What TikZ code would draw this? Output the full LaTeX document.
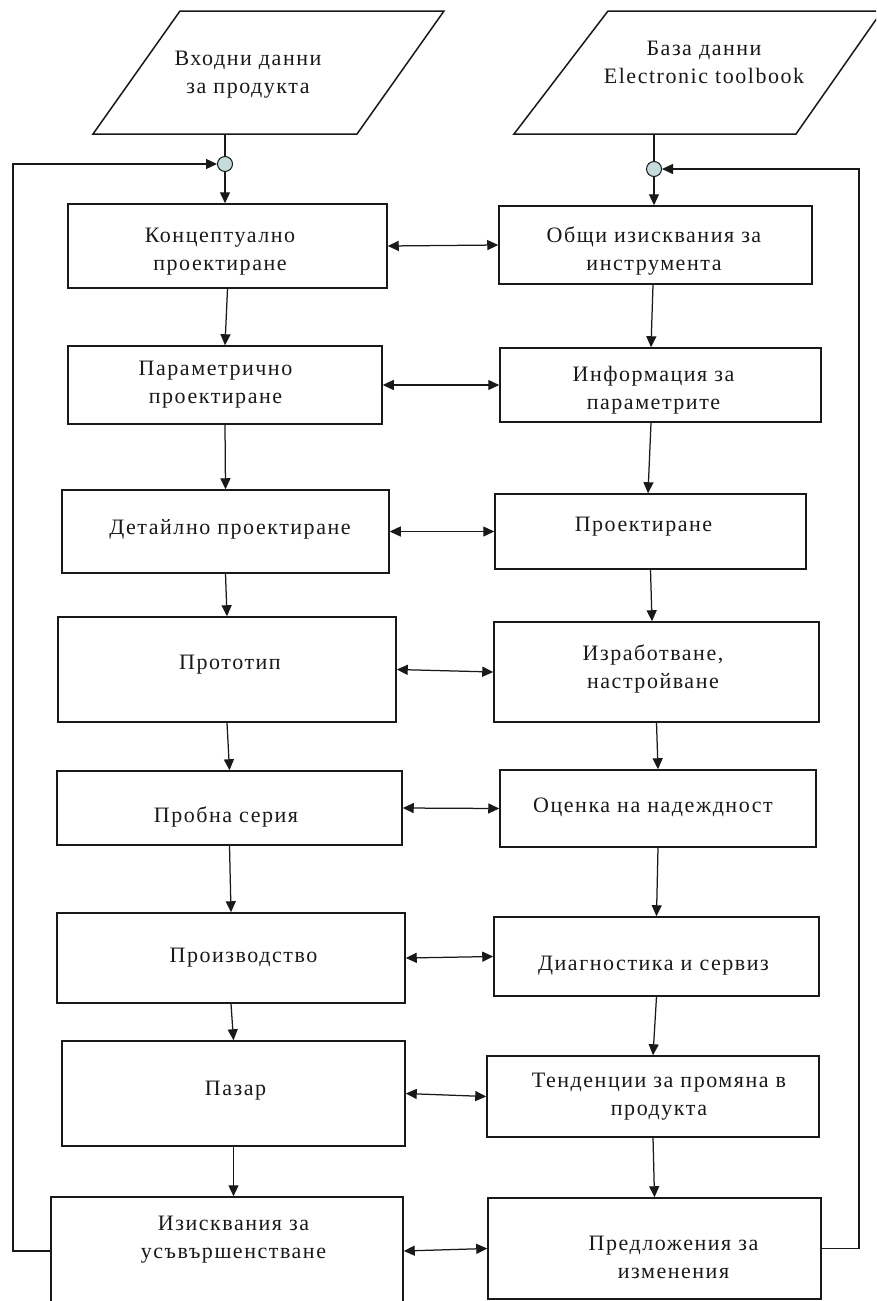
\documentclass[tikz,border=0pt]{standalone}
\usepackage{fontspec}
\setmainfont[LetterSpace=7]{Liberation Serif}
\usetikzlibrary{arrows.meta}
\definecolor{ink}{RGB}{25,25,25}
\definecolor{knot}{RGB}{196,220,222}
\begin{document}
\begin{tikzpicture}[x=1pt,y=-1pt,
  box/.style={draw=ink, line width=1.5pt, inner sep=0pt},
  txt/.style={text=ink, font=\fontsize{22}{28}\selectfont, align=center, inner sep=0pt, yshift=-3pt},
  arr/.style={draw=ink, line width=1.25pt, -{Triangle[length=11pt,width=10pt]}},
  biarr/.style={draw=ink, line width=1.25pt, {Triangle[length=11pt,width=10pt]}-{Triangle[length=11pt,width=10pt]}},
  conn/.style={draw=ink, line width=1.25pt},
  knotst/.style={circle, draw=ink, line width=1pt, fill=knot, minimum size=15pt, inner sep=0pt}]
\useasboundingbox (0,0) rectangle (876,1301);
\clip (0,0) rectangle (876,1301);
\fill[white] (0,0) rectangle (876,1301);

% input parallelograms
\draw[draw=ink, line width=1.5pt] (93,134) -- (357,134) -- (444,11) -- (180,11) -- cycle;
\node[txt] (PLt) at (248,71.5) {Входни данни\\за продукта};
\coordinate (PLo) at (225,134);
\draw[draw=ink, line width=1.5pt] (514,134) -- (796,134) -- (882,11) -- (608,11) -- cycle;
\node[txt] (PRt) at (704,59) {База данни\\Electronic toolbook};
\coordinate (PRo) at (654,134);

% junction circles
\node[knotst] (Lc) at (225,164) {};
\node[knotst] (Rc) at (654,169) {};

% left column boxes
\node[box, minimum width=319pt, minimum height=84pt]  (L1) at (227.5,246) {};
\node[box, minimum width=314pt, minimum height=78pt]  (L2) at (225,385) {};
\node[box, minimum width=327pt, minimum height=83pt]  (L3) at (225.5,531.5) {};
\node[box, minimum width=338pt, minimum height=105pt] (L4) at (227,669.5) {};
\node[box, minimum width=345pt, minimum height=74pt]  (L5) at (229.5,808) {};
\node[box, minimum width=348pt, minimum height=90pt]  (L6) at (231,958) {};
\node[box, minimum width=343pt, minimum height=105pt] (L7) at (233.5,1093.5) {};
\node[box, minimum width=352pt, minimum height=108pt] (L8) at (227,1251) {};

% right column boxes
\node[box, minimum width=313pt, minimum height=78pt]  (R1) at (655.5,245) {};
\node[box, minimum width=321pt, minimum height=74pt]  (R2) at (660.5,385) {};
\node[box, minimum width=311pt, minimum height=75pt]  (R3) at (650.5,531.5) {};
\node[box, minimum width=325pt, minimum height=100pt] (R4) at (656.5,672) {};
\node[box, minimum width=316pt, minimum height=77pt]  (R5) at (658,808.5) {};
\node[box, minimum width=325pt, minimum height=79pt]  (R6) at (656.5,956.5) {};
\node[box, minimum width=332pt, minimum height=81pt]  (R7) at (653,1096.5) {};
\node[box, minimum width=333pt, minimum height=101pt] (R8) at (654.5,1248.5) {};

% texts
\node[txt] (L1t) at (220,248.5) {Концептуално\\проектиране};
\node[txt] (L2t) at (215.5,382) {Параметрично\\проектиране};
\node[txt] (L3t) at (230,526) {Детайлно проектиране};
\node[txt] (L4t) at (230,662) {Прототип};
\node[txt] (L5t) at (226,813.5) {Пробна серия};
\node[txt] (L6t) at (243.5,954.5) {Производство};
\node[txt] (L7t) at (235.5,1088) {Пазар};
\node[txt] (L8t) at (233.5,1236.5) {Изисквания за\\усъвършенстване};
\node[txt] (R1t) at (654,247.5) {Общи изисквания за\\инструмента};
\node[txt] (R2t) at (653.5,387.5) {Информация за\\параметрите};
\node[txt] (R3t) at (643.5,523.5) {Проектиране};
\node[txt] (R4t) at (653,665.5) {Изработване,\\настройване};
\node[txt] (R5t) at (653,804) {Оценка на надеждност};
\node[txt] (R6t) at (653.5,963) {Диагностика и сервиз};
\node[txt] (R7t) at (659,1094) {Тенденции за промяна в\\продукта};
\node[txt] (R8t) at (673.5,1254) {Предложения за\\изменения};

% inputs into the chain
\draw[conn] (PLo) -- (Lc.north);
\draw[arr] (Lc.south) -- (Lc.south |- L1.north);
\draw[conn] (PRo) -- (Rc.north);
\draw[arr] (Rc.south) -- (Rc.south |- R1.north);

% left chain
\draw[arr] (L1.south) -- (L2.north);
\draw[arr] (L2.south) -- (L3.north);
\draw[arr] (L3.south) -- (L4.north);
\draw[arr] (L4.south) -- (L5.north);
\draw[arr] (L5.south) -- (L6.north);
\draw[arr] (L6.south) -- (L7.north);
\draw[arr] (L7.south) -- (L7.south |- L8.north);

% right chain
\draw[arr] ([xshift=-2.5pt]R1.south) -- ([xshift=-9.5pt]R2.north);
\draw[arr] ([xshift=-9.5pt]R2.south) -- ([xshift=-2.5pt]R3.north);
\draw[arr] (R3.south) -- ([xshift=-4.5pt]R4.north);
\draw[arr] (R4.south) -- (R5.north);
\draw[arr] (R5.south) -- (R6.north);
\draw[arr] (R6.south) -- (R7.north);
\draw[arr] (R7.south) -- (R8.north);

% two-way links
\draw[biarr] (L1.east) -- (R1.west);
\draw[biarr] (L2.east) -- (R2.west);
\draw[biarr] (L3.east) -- (R3.west);
\draw[biarr] (L4.east) -- (R4.west);
\draw[biarr] (L5.east) -- (R5.west);
\draw[biarr] (L6.east) -- (R6.west);
\draw[biarr] (L7.east) -- (R7.west);
\draw[biarr] (L8.east) -- (R8.west);

% feedback loops
\coordinate (LfT) at (13,164);
\coordinate (RfT) at (859,169);
\draw[arr] (L8.west) -| (LfT) -- (Lc.west);
\draw[arr] (R8.east) -| (RfT) -- (Rc.east);
\end{tikzpicture}
\end{document}
